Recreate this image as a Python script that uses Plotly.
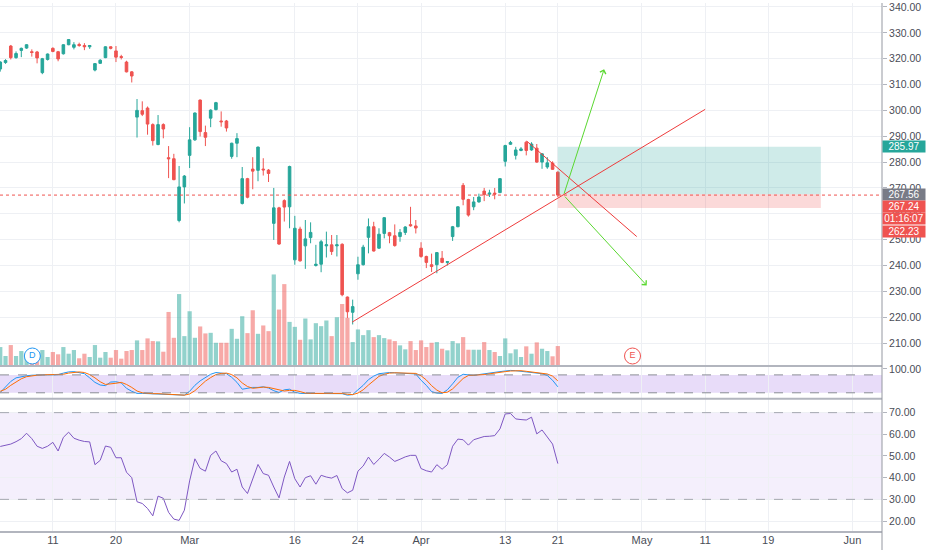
import plotly.graph_objects as go

# ---------------- data (4h bars) ----------------
opens = [316.0,318.5,324.9,320.4,323.2,324.1,322.7,322.6,314.6,319.7,324.0,322.7,321.9,325.4,324.4,325.5,325.1,324.6,315.6,318.2,
         320.4,324.6,323.0,320.8,318.7,314.9,297.4,299.9,300.9,294.5,286.8,294.5,281.7,281.3,257.4,270.4,282.6,288.6,304.0,291.4,
         297.0,300.3,295.9,295.9,282.2,287.3,264.0,273.6,277.3,276.8,277.3,276.9,256.3,262.3,265.1,262.7,242.2,254.1,247.6,250.8,
         240.0,240.5,247.6,248.0,247.6,248.2,227.8,221.9,236.8,240.3,250.9,255.0,246.7,252.4,252.7,251.5,251.2,252.8,255.8,255.3,
         246.7,243.5,240.3,240.3,242.8,241.2,251.2,255.0,271.0,265.5,262.7,264.6,268.8,267.6,268.0,268.2,280.3,286.9,282.6,284.5,
         287.7,284.7,285.4,280.0,278.1,279.6,276.1]
highs = [319.0,319.8,325.3,322.8,324.3,325.6,323.6,323.0,320.3,322.0,324.4,323.0,325.6,327.6,326.4,326.2,326.0,325.3,318.3,319.8,
         324.8,324.8,324.9,321.5,319.2,315.2,304.4,303.5,301.5,295.0,298.2,295.0,286.2,283.2,278.5,275.0,293.5,299.2,304.2,294.1,
         300.4,303.3,299.6,296.3,287.5,291.2,278.1,273.9,281.9,286.0,281.5,277.3,270.0,262.7,265.6,278.6,259.2,255.0,257.6,256.7,
         248.0,249.9,253.1,251.8,251.8,248.6,228.0,226.8,243.4,248.0,258.2,256.9,254.4,258.7,253.0,255.9,254.1,255.2,262.7,257.6,
         249.0,243.8,244.6,245.2,245.6,241.6,255.3,262.9,271.9,265.8,266.5,267.8,270.0,269.3,270.0,273.8,286.7,288.2,285.9,285.8,
         288.2,287.7,287.0,283.5,281.9,280.3,276.4]
lows = [315.0,318.0,319.7,320.0,320.6,323.8,320.8,318.2,314.0,319.3,322.5,319.0,321.6,325.2,323.6,324.6,323.3,323.8,315.1,318.0,
        320.2,323.6,318.7,319.7,314.7,310.8,289.5,297.8,290.6,286.4,286.5,289.2,273.8,273.0,256.7,264.0,277.7,288.2,289.9,286.2,
        293.5,300.0,293.7,291.8,281.3,281.9,263.6,266.0,269.5,272.6,274.8,272.3,249.9,248.0,257.0,254.4,240.3,241.5,238.7,248.6,
        239.6,237.4,243.1,244.1,243.5,228.1,219.7,217.2,234.5,240.0,244.7,245.4,246.4,250.5,248.6,247.3,249.2,251.8,255.0,252.4,
        243.0,239.0,237.5,237.0,240.9,240.0,249.5,254.8,263.3,258.9,261.4,264.3,264.9,266.5,265.6,268.0,278.3,286.6,281.0,284.2,
        282.6,284.4,279.7,277.4,277.4,277.0,266.5]
closes = [318.7,319.3,320.4,322.0,324.0,325.4,322.4,320.3,320.0,321.8,322.8,319.9,325.4,327.4,325.4,325.1,324.6,325.1,318.1,319.4,
          324.6,324.0,320.6,320.5,314.9,313.3,300.0,298.5,294.7,288.3,294.5,292.8,281.3,273.2,270.4,274.6,288.6,299.0,291.8,289.6,
          300.1,303.0,295.6,293.2,287.3,289.1,273.6,266.4,276.5,285.8,277.0,275.6,262.3,248.3,262.6,278.3,254.4,241.8,250.3,252.8,
          240.5,249.2,248.0,245.4,248.0,228.7,222.1,224.1,240.3,247.1,255.0,245.6,252.1,258.5,251.5,247.7,252.8,254.9,255.4,254.5,
          243.5,241.2,239.6,245.0,241.2,241.5,255.0,262.7,265.6,259.5,264.6,266.5,267.4,268.0,267.6,273.6,286.4,287.6,284.7,285.1,
          284.5,287.0,280.0,283.2,279.7,277.2,267.24]
volumes = [19,10,21,10,15,8,6.7,9,16,9,14,11.7,19,12.3,16,7.7,12.3,9,21,8.3,
           14,8.3,16,7.3,15,16,25.7,16,27.7,25,24.7,14.3,54.3,28.3,72.3,30,55,28.3,39.7,32.7,
           33.3,23.3,23.3,23.3,37.3,27.3,50,33,56,32.3,40.7,35,92,56.7,82.3,44.3,39.3,26.3,47.7,26.7,
           43,40,45.7,30,49,62.3,48.3,24,36.7,31,36,29,31,28,26.7,25,20.7,16.7,25,16,
           25.7,19,23.3,24,17.3,15.7,25,22.7,29,16.3,16.3,16.3,24,16,14,10,27.7,12.7,16.7,9,
           19.7,12.3,23.7,17.3,15,9.7,20]
stoch_k = [21,40,58,70,74,77,79,80,80,80,80,81,86,90,91,88,84,70,55,46,
           44,56,57,53,35,25,18,18,17,17,16,14,13,12,12,12,25,45,60,72,
           82,88,86,84,72,55,32,36,38,38,40,36,27,21,30,32,22,18,18,18,
           18,18,17,19,17,17,12,14,30,45,64,76,84,87,88,87,86,85,86,83,
           62,45,24,19,18,30,50,72,82,80,78,81,84,86,88,91,93,95,94,92,
           90,88,86,84,78,62,40]
stoch_d = [25,32,45,56,67,74,77,79,80,80,80,80,82,86,89,90,88,81,70,57,
           48,49,52,55,48,38,26,20,18,17,17,16,14,13,12,12,16,27,43,59,
           71,81,85,86,81,70,53,41,35,37,39,38,34,28,26,28,28,24,19,18,
           18,18,18,18,18,18,15,14,19,30,46,62,75,82,86,87,87,86,86,85,
           77,63,44,29,20,22,33,51,68,78,80,80,81,84,86,88,91,93,94,94,
           92,90,88,86,83,76,60]
rsi = [54.4,54.8,55.5,56.6,58,60.5,58,54.5,53.5,54.5,56.3,52.3,58.6,61,58.2,57.3,56.7,56.5,46,48,
       54.6,54,49.2,49.2,42.5,40,28.9,28.1,25.8,22.4,31.5,30.5,24,20.9,20.3,25,38.5,48.7,44.3,43,
       50.3,52.3,47.8,46.5,42.6,43.9,35.7,32.7,39.6,46.1,41.9,41.1,35.7,30.7,40.3,47.5,39.5,35.7,40,40.9,
       37,41.1,40.3,39.8,41,35,33,34.2,43,45.4,49.5,46.1,48.5,51.2,49.5,47.5,48.5,49.6,50.3,50.3,
       44.2,43.2,42.6,46,43.9,46,54.5,57.8,57.5,55,57.5,58.3,59,59.1,59.4,62.5,69.4,69.6,67.1,66.8,
       66.6,67.9,60.2,62,59,55.5,46.5]

tick_pos = [10, 22, 36, 56, 68, 80, 96, 106, 122, 134, 146, 162]
tick_text = ["11", "20", "Mar", "16", "24", "Apr", "13", "21", "May", "11", "19", "Jun"]
price_ticks = [210, 220, 230, 240, 250, 260, 270, 280, 290, 300, 310, 320, 330, 340]
rsi_ticks = [20, 30, 40, 50, 60, 70]

# drawings (bar index, price)
trend_up = [(66.9, 218.1), (134.0, 300.4)]
trend_down = [(100.1, 288.1), (121.0, 251.2)]
arrow_start = (107.1, 267.2)
arrow_up_tip = (114.8, 315.9)
arrow_down_tip = (122.9, 232.3)
position = {"x0": 106, "x1": 156, "entry": 267.56, "target": 285.97, "stop": 262.23}
last_price = 267.24
countdown = "01:16:07"
event_marks = [(6.1, "D", "#2196f3"), (120.2, "E", "#ef5350")]
# axis-label stacking slots (price level where each stacked label is drawn)
label_slots = [262.85, 258.05, 253.25]

# ---------------- styling ----------------
UP = "#26a69a"
DN = "#ef5350"
GRID = "#eef0f4"
TXT = "#4a4d57"
FONT = "Liberation Sans"
xs = list(range(len(closes)))
vol_colors = ["rgba(38,166,154,0.5)" if c >= o else "rgba(239,83,80,0.5)" for o, c in zip(opens, closes)]

fig = go.Figure()

fig.add_trace(go.Bar(x=xs, y=volumes, marker_color=vol_colors, marker_line_width=0, width=0.8,
                     xaxis="x", yaxis="y2", hoverinfo="skip"))
fig.add_trace(go.Candlestick(x=xs, open=opens, high=highs, low=lows, close=closes,
                             increasing=dict(line=dict(color=UP, width=1), fillcolor=UP),
                             decreasing=dict(line=dict(color=DN, width=1), fillcolor=DN),
                             whiskerwidth=0, xaxis="x", yaxis="y", hoverinfo="skip"))
fig.add_trace(go.Scatter(x=xs, y=stoch_k, mode="lines", line=dict(color="#2196f3", width=1),
                         xaxis="x2", yaxis="y3", hoverinfo="skip"))
fig.add_trace(go.Scatter(x=xs, y=stoch_d, mode="lines", line=dict(color="#ff6d00", width=1),
                         xaxis="x2", yaxis="y3", hoverinfo="skip"))
fig.add_trace(go.Scatter(x=xs, y=rsi, mode="lines", line=dict(color="#7e57c2", width=1),
                         xaxis="x3", yaxis="y4", hoverinfo="skip"))
# event markers (D / E)
fig.add_trace(go.Scatter(x=[e[0] for e in event_marks], y=[10] * len(event_marks), mode="markers+text",
                         marker=dict(symbol="circle", size=16, color="white",
                                     line=dict(color=[e[2] for e in event_marks], width=1)),
                         text=[e[1] for e in event_marks], textposition="middle center",
                         textfont=dict(color=[e[2] for e in event_marks], size=9, family=FONT),
                         xaxis="x", yaxis="y2", hoverinfo="skip", cliponaxis=False))

XR = [-0.05, 167.63]
main_dom = [0.31391, 1.0]
stoch_dom = [0.25188, 0.31391]
rsi_dom = [0.0, 0.25188]

xcommon = dict(range=XR, tickvals=tick_pos, showgrid=True, gridcolor=GRID, gridwidth=1,
               zeroline=False, showline=False, fixedrange=True)
fig.update_layout(
    width=932, height=550,
    margin=dict(l=0, r=50, t=0, b=18),
    paper_bgcolor="white", plot_bgcolor="white",
    showlegend=False, hovermode=False,
    font=dict(family=FONT, size=11, color=TXT),
    xaxis=dict(**xcommon, domain=[0, 1], anchor="y", showticklabels=False, rangeslider=dict(visible=False)),
    xaxis2=dict(**xcommon, domain=[0, 1], anchor="y3", showticklabels=False),
    xaxis3=dict(**xcommon, domain=[0, 1], anchor="y4", ticktext=tick_text, showticklabels=True,
                ticks="", tickfont=dict(size=11, color=TXT)),
    yaxis=dict(domain=main_dom, range=[201.15, 341.54], side="right", tickvals=price_ticks,
               tickformat=".2f", showgrid=True, gridcolor=GRID, zeroline=False,
               ticks="outside", ticklen=4, tickcolor="#b2b5be", tickfont=dict(size=10.5, color=TXT)),
    yaxis2=dict(domain=main_dom, range=[0, 365], overlaying="y", visible=False, anchor="x"),
    yaxis3=dict(domain=stoch_dom, range=[0, 110], side="right", tickvals=[100], tickformat=".2f",
                showgrid=False, zeroline=False, ticks="outside", ticklen=4, tickcolor="#b2b5be",
                tickfont=dict(size=10.5, color=TXT), anchor="x2"),
    yaxis4=dict(domain=rsi_dom, range=[14.95, 76.4], side="right", tickvals=rsi_ticks, tickformat=".2f",
                showgrid=True, gridcolor=GRID, zeroline=False, ticks="outside", ticklen=4,
                tickcolor="#b2b5be", tickfont=dict(size=10.5, color=TXT), anchor="x3"),
)

shapes = []
# indicator bands
shapes.append(dict(type="rect", xref="paper", yref="y3", x0=0, x1=1, y0=20, y1=80,
                   fillcolor="rgba(149,97,226,0.22)", line_width=0, layer="below"))
for v in (20, 80):
    shapes.append(dict(type="line", xref="paper", yref="y3", x0=0, x1=1, y0=v, y1=v,
                       line=dict(color="#8a8d96", width=1, dash="dash")))
shapes.append(dict(type="rect", xref="paper", yref="y4", x0=0, x1=1, y0=30, y1=70,
                   fillcolor="rgba(149,97,226,0.10)", line_width=0, layer="below"))
for v in (30, 70):
    shapes.append(dict(type="line", xref="paper", yref="y4", x0=0, x1=1, y0=v, y1=v,
                       line=dict(color="#a5a8b0", width=1, dash="dash")))
# position box
shapes.append(dict(type="rect", xref="x", yref="y", x0=position["x0"], x1=position["x1"],
                   y0=position["entry"], y1=position["target"],
                   fillcolor="rgba(38,166,154,0.22)", line_width=0))
shapes.append(dict(type="rect", xref="x", yref="y", x0=position["x0"], x1=position["x1"],
                   y0=position["stop"], y1=position["entry"],
                   fillcolor="rgba(239,83,80,0.22)", line_width=0))
# last price dotted line
shapes.append(dict(type="line", xref="paper", yref="y", x0=0, x1=1, y0=last_price, y1=last_price,
                   line=dict(color=DN, width=1, dash="dot")))
# trend lines
for (a, b) in (trend_up, trend_down):
    shapes.append(dict(type="line", xref="x", yref="y", x0=a[0], y0=a[1], x1=b[0], y1=b[1],
                       line=dict(color="#ee3b3b", width=1)))
# pane separators & right axis line
for yp in (main_dom[0], stoch_dom[0], 0.0):
    shapes.append(dict(type="line", xref="paper", yref="paper", x0=0, x1=1.0, y0=yp, y1=yp,
                       line=dict(color="#b2b5be", width=2)))
shapes.append(dict(type="line", xref="paper", yref="paper", x0=1.0, x1=1.0, y0=-0.04, y1=1,
                   line=dict(color="#9598a1", width=1)))
fig.update_layout(shapes=shapes)

ann = []
for tip in (arrow_up_tip, arrow_down_tip):
    ann.append(dict(x=tip[0], y=tip[1], ax=arrow_start[0], ay=arrow_start[1], xref="x", yref="y",
                    axref="x", ayref="y", text="", showarrow=True, arrowhead=4, arrowsize=1.2,
                    arrowwidth=1, arrowcolor="#5ad830"))


def price_label(yv, text, bg):
    return dict(x=1.0, y=yv, xref="paper", yref="y", xanchor="left", yanchor="middle",
                text=text, showarrow=False, bgcolor=bg, borderpad=0, width=42, align="center",
                font=dict(color="white", size=10, family=FONT))


ann.append(price_label(position["target"], "%.2f" % position["target"], UP))
ann.append(price_label(position["entry"], "%.2f" % position["entry"], "#787b86"))
ann.append(price_label(label_slots[0], "%.2f" % last_price, DN))
ann.append(price_label(label_slots[1], countdown, DN))
ann.append(price_label(label_slots[2], "%.2f" % position["stop"], DN))
fig.update_layout(annotations=ann)

fig.write_html("out.html", config={"displayModeBar": False},
               post_script="document.body.style.margin='0';document.body.style.overflow='hidden';")
